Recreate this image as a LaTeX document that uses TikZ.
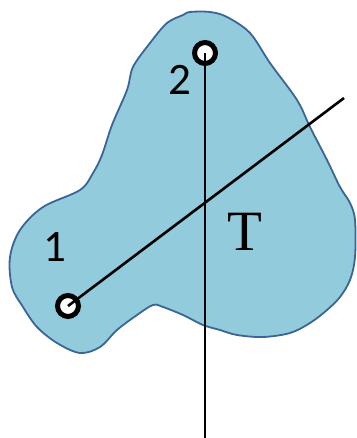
\documentclass[tikz,border=0pt]{standalone}
\usepackage{fontspec}
\setmainfont{Carlito}
\newfontfamily\tfont{Liberation Serif}
\usepackage{tikz}
\definecolor{ink}     {HTML}{000000}
\definecolor{blobfill}{HTML}{92CBDC}
\definecolor{blobline}{HTML}{3A6596}

\begin{document}
\begin{tikzpicture}[x=1pt,y=-1pt,
    port/.style={circle,draw=ink,fill=white,line width=5pt,minimum size=21pt,inner sep=0pt},
    lbl/.style={anchor=base,inner sep=0pt,font=\fontsize{45}{48}\selectfont},
    wire/.style={ink,line width=2.6pt}]
        \useasboundingbox (0,0) rectangle (356,438);
        % body outline
        \draw[blobline,fill=blobfill,line width=1.8pt] plot[smooth cycle,tension=0.55] coordinates {
          (190,12) (210,12) (227,17) (250,33) (270,63) (297,100) (310,127) (327,160)
          (340,187) (350,203) (355,220) (355,257) (350,280) (340,297) (327,310) (310,323)
          (290,333) (263,337) (237,335) (220,330) (203,325) (183,315) (163,307) (153,305)
          (137,315) (117,330) (100,347) (80,353) (57,343) (37,327) (23,307) (12,287)
          (10,257) (20,230) (43,207) (80,190) (93,173) (102,155) (112,125) (127,90)
          (133,67) (150,43) (167,23) (183,15)};

        \node[port] (p1) at (68,306) {};
        \node[port] (p2) at (205,53) {};
        \coordinate (bot) at (205,438);
        \coordinate (tip) at (344,98);

        \draw[wire] (p2.center) -- (bot);
        \draw[wire] (p1.center) -- (tip);

        \node[lbl] (l1) at (55,261) {1};
        \node[lbl] (l2) at (180,95) {2};
        \node[lbl,font=\tfont\fontsize{57}{60}\selectfont] (lT) at (245,250) {T};
      \end{tikzpicture}
\end{document}
